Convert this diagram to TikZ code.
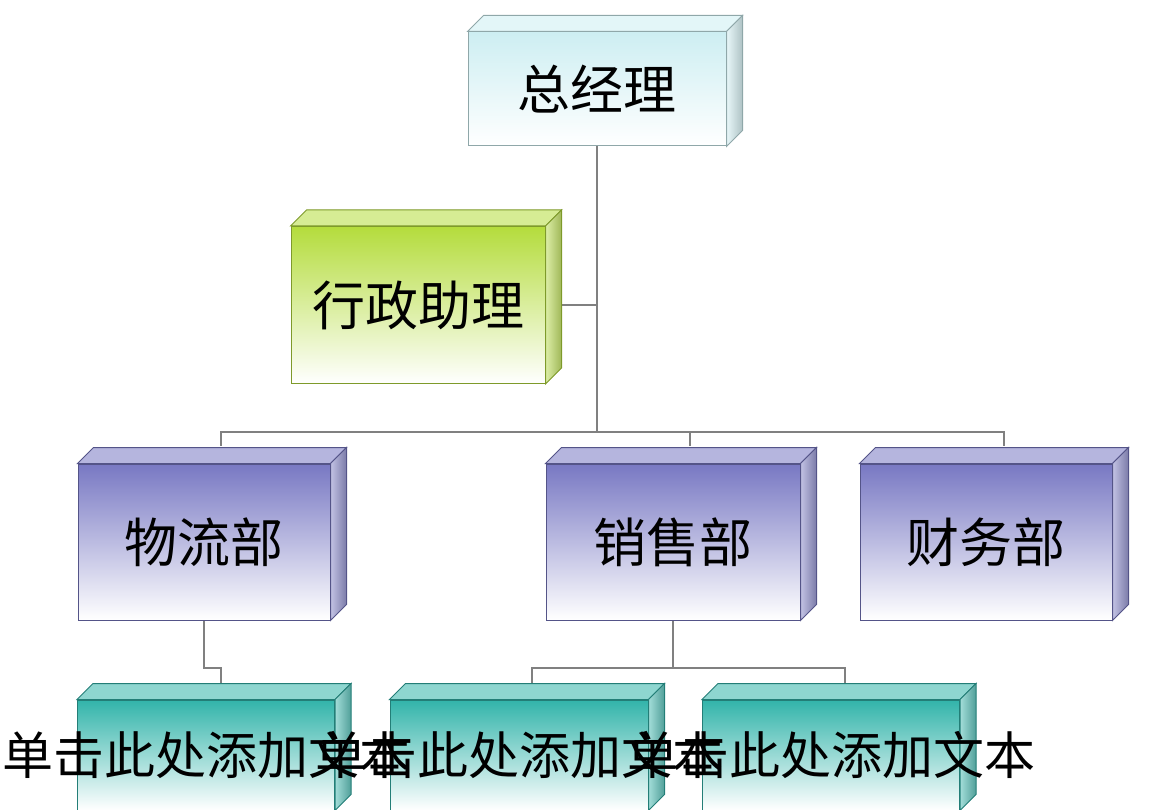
\documentclass[tikz,border=0pt]{standalone}
\usepackage{fontspec}
\newfontfamily\cjk{Noto Sans CJK SC}
\usetikzlibrary{positioning,calc}
\definecolor{gmcol}{RGB}{205,238,242}
\definecolor{ascol}{RGB}{180,220,60}
\definecolor{depcol}{RGB}{120,120,195}
\definecolor{subcol}{RGB}{50,180,170}
\definecolor{wirecol}{RGB}{128,128,128}
\tikzset{
  face/.style={draw=#1!70!black, line width=1pt, inner sep=0pt, top color=#1, bottom color=white,
    font=\cjk\fontsize{53}{53}\selectfont},
  wire/.style={draw=wirecol, line width=2.5pt}
}
% side and top faces of a box
\newcommand{\boxsides}[2]{%
  \fill[#2!55!white, draw=#2!70!black, line width=1pt] (#1.north west) -- ++(16,-16) -- ++($(#1.north east)-(#1.north west)$) -- (#1.north east) -- cycle;
  \shade[left color=#2!45!white, right color=#2!60!gray, draw=#2!70!black, line width=1pt] (#1.north east) -- ++(16,-16) -- ++($(#1.south east)-(#1.north east)$) -- (#1.south east) -- cycle;
}
\begin{document}
\begin{tikzpicture}[x=1pt,y=-1pt]
\useasboundingbox (0,0) rectangle (1170,810);

% connectors
\coordinate (jn) at (597,432);
\coordinate (jl) at (204,668);
\coordinate (jr) at (673,668);

\node[face=gmcol, minimum width=258, minimum height=114] (gm) at (597,89) {总经理};
\node[face=ascol, minimum width=254, minimum height=157] (as) at (418,305) {行政助理};
\node[face=depcol, minimum width=252, minimum height=156] (wl) at (204,542) {物流部};
\node[face=depcol, minimum width=254, minimum height=156] (xs) at (673,542) {销售部};
\node[face=depcol, minimum width=252, minimum height=156] (cw) at (986,542) {财务部};
\node[face=subcol, minimum width=257, minimum height=110] (s1) at (206,755) {};
\node[face=subcol, minimum width=258, minimum height=110] (s2) at (519,755) {};
\node[face=subcol, minimum width=257, minimum height=110] (s3) at (831,755) {};

\draw[wire] (gm.south) -- (jn);
\draw[wire] (as.east) -- (as.east -| jn);
\draw[wire] (221,446) |- (jn) -| (1004,446);
\draw[wire] (690,432) -- (690,446);
\draw[wire] (wl.south) -- (jl) -| (221,684);
\draw[wire] (xs.south) -- (jr);
\draw[wire] (532,684) |- (jr) -| (845,684);

\boxsides{gm}{gmcol}
\boxsides{as}{ascol}
\boxsides{wl}{depcol}
\boxsides{xs}{depcol}
\boxsides{cw}{depcol}
\boxsides{s1}{subcol}
\boxsides{s2}{subcol}
\boxsides{s3}{subcol}

\foreach \s in {s1,s2,s3}
  \node[font=\cjk\fontsize{51}{51}\selectfont] at (\s) {单击此处添加文本};
\end{tikzpicture}
\end{document}
